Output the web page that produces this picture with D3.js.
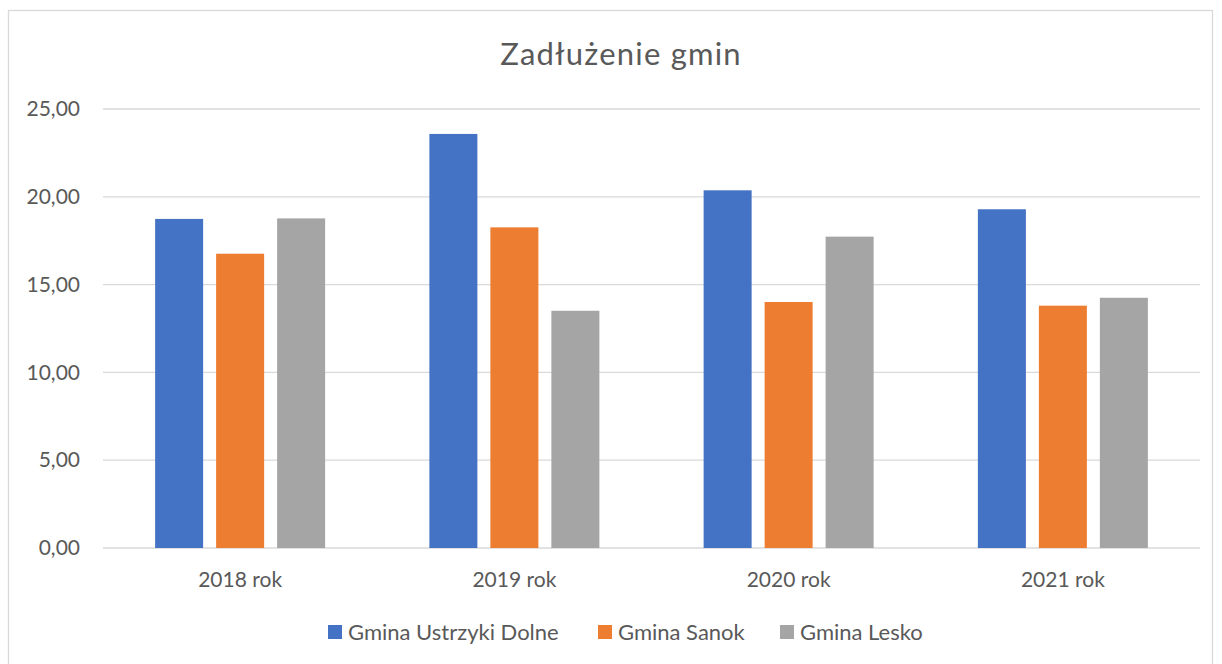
<!DOCTYPE html>
<html>
<head>
<meta charset="utf-8">
<script src="https://cdn.jsdelivr.net/npm/d3@7"></script>
<style>
  body { margin: 0; background: #fff; }
  text { font-family: Lato, "Noto Sans", sans-serif; fill: #595959; }
</style>
</head>
<body>
<div id="chart"></div>
<script>
// data
var years = ["2018 rok", "2019 rok", "2020 rok", "2021 rok"];
var series = ["Gmina Ustrzyki Dolne", "Gmina Sanok", "Gmina Lesko"];
var ustrzyki = [18.74, 23.58, 20.37, 19.29];
var sanok = [16.76, 18.26, 14.01, 13.80];
var lesko = [18.77, 13.51, 17.73, 14.25];
var yTicks = [0, 5, 10, 15, 20, 25];
var colors = ["#4472C4", "#ED7D31", "#A5A5A5"];

var values = [ustrzyki, sanok, lesko];

var W = 1222, H = 664;
var margin = {top: 109, right: 22, bottom: 116, left: 103};
var width = W - margin.left - margin.right,
    height = H - margin.top - margin.bottom;

var svg = d3.select("#chart")
  .append("svg")
    .attr("width", W)
    .attr("height", H);

// chart frame
svg.append("rect")
  .attr("x", 8.5).attr("y", 10.5)
  .attr("width", 1204).attr("height", 700)
  .attr("fill", "#fff")
  .attr("stroke", "#d9d9d9")
  .attr("stroke-width", 1.3);

// title
svg.append("text")
  .attr("x", 621).attr("y", 65)
  .attr("text-anchor", "middle")
  .style("font-size", "31px")
  .style("letter-spacing", "1.2px")
  .text("Zadłużenie gmin");

var g = svg.append("g")
  .attr("transform", "translate(" + margin.left + "," + margin.top + ")");

var x0 = d3.scaleBand()
  .domain(years)
  .range([0, width]);

var x1 = d3.scaleBand()
  .domain(series)
  .range([0, 170])
  .paddingInner(0.213);

var y = d3.scaleLinear()
  .domain([0, 25])
  .range([height, 0]);

// grid lines
g.append("g")
  .selectAll("line")
  .data(yTicks)
  .enter()
  .append("line")
    .attr("x1", 0).attr("x2", width)
    .attr("y1", function(d) { return y(d); })
    .attr("y2", function(d) { return y(d); })
    .attr("stroke", "#d9d9d9")
    .attr("stroke-width", 1.3);

// Y axis labels
var yAxis = g.append("g")
  .call(d3.axisLeft(y).tickValues(yTicks).tickSize(0).tickPadding(23)
    .tickFormat(function(d) { return d3.format(".2f")(d).replace(".", ","); }));
yAxis.select(".domain").remove();
yAxis.selectAll("text").style("font-size", "21px").attr("fill", "#595959")
  .style("font-family", "Lato, sans-serif");

// X axis labels
var xAxis = g.append("g")
  .attr("transform", "translate(0," + height + ")")
  .call(d3.axisBottom(x0).tickSize(0).tickPadding(24));
xAxis.select(".domain").remove();
xAxis.selectAll("text").style("font-size", "21px").attr("fill", "#595959")
  .style("font-family", "Lato, sans-serif");

// bars
var groups = g.selectAll(".year")
  .data(years)
  .enter()
  .append("g")
    .attr("transform", function(d) {
      return "translate(" + (x0(d) + x0.bandwidth() / 2 - 85) + ",0)";
    });

groups.selectAll("rect")
  .data(function(d, i) {
    return series.map(function(s, j) { return {key: s, value: values[j][i], c: colors[j]}; });
  })
  .enter()
  .append("rect")
    .attr("x", function(d) { return x1(d.key); })
    .attr("y", function(d) { return y(d.value); })
    .attr("width", x1.bandwidth())
    .attr("height", function(d) { return height - y(d.value); })
    .attr("fill", function(d) { return d.c; });

// legend
var legendX = [328, 598, 780];
var legend = svg.append("g");
var items = legend.selectAll("g")
  .data(series)
  .enter()
  .append("g")
    .attr("transform", function(d, i) { return "translate(" + legendX[i] + ",625)"; });
items.append("rect")
  .attr("width", 14).attr("height", 14)
  .attr("fill", function(d, i) { return colors[i]; });
items.append("text")
  .attr("x", 20).attr("y", 15)
  .style("font-size", "22px")
  .text(function(d) { return d; });
</script>
</body>
</html>
